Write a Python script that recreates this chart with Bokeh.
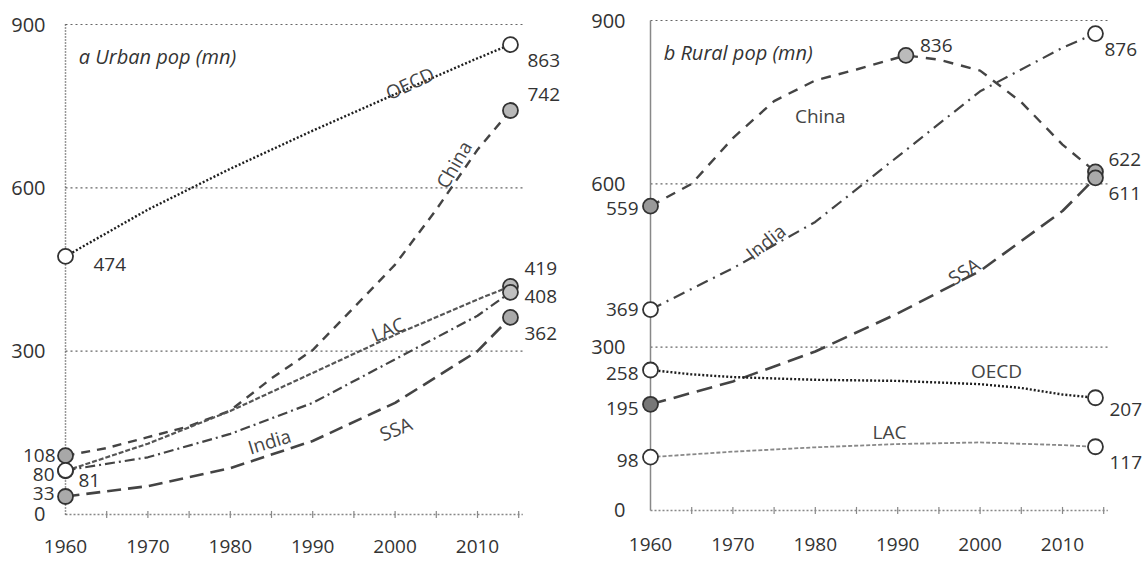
import math
import numpy as np
from bokeh.plotting import figure
from bokeh.layouts import row
from bokeh.models import Range1d, Label
from bokeh.embed import file_html
from bokeh.resources import INLINE

# ---------------- data ----------------
x_ticks = [1960, 1970, 1980, 1990, 2000, 2010]
y_ticks = [0, 300, 600, 900]
small_tick_years = [1965, 1970, 1975, 1980, 1985, 1990, 1995, 2000, 2005, 2010, 2015]

# a Urban population (millions)
u_oecd_years = [1960, 1970, 1980, 1990, 2000, 2010, 2014]
u_oecd = [474, 560, 635, 705, 772, 838, 863]
u_china_years = [1960, 1965, 1970, 1975, 1980, 1985, 1990, 1995, 2000, 2005, 2010, 2014]
u_china = [108, 122, 142, 162, 191, 250, 302, 380, 459, 560, 670, 742]
u_lac_years = [1960, 1970, 1980, 1990, 2000, 2010, 2014]
u_lac = [80, 130, 190, 260, 330, 395, 419]
u_india_years = [1960, 1970, 1980, 1990, 2000, 2010, 2014]
u_india = [81, 105, 148, 205, 285, 365, 408]
u_ssa_years = [1960, 1970, 1980, 1990, 2000, 2010, 2014]
u_ssa = [33, 52, 85, 135, 205, 300, 362]

# b Rural population (millions)
r_china_years = [1960, 1965, 1970, 1975, 1980, 1985, 1991, 1995, 2000, 2005, 2010, 2014]
r_china = [559, 600, 684, 752, 790, 810, 836, 828, 808, 750, 672, 622]
r_india_years = [1960, 1970, 1980, 1990, 2000, 2010, 2014]
r_india = [369, 445, 530, 650, 770, 850, 876]
r_ssa_years = [1960, 1970, 1980, 1990, 2000, 2010, 2014]
r_ssa = [195, 237, 292, 362, 440, 550, 611]
r_oecd_years = [1960, 1965, 1970, 1980, 1990, 2000, 2005, 2010, 2014]
r_oecd = [258, 250, 245, 240, 238, 232, 225, 213, 207]
r_lac_years = [1960, 1970, 1980, 1990, 2000, 2010, 2014]
r_lac = [98, 108, 116, 122, 125, 120, 117]

# ---------------- styles ----------------
FONT = "Open Sans"
TXT = "#333333"
GRID_END = 2015.5
H = 561
PPY = 8.24      # pixels per year
PPU = 0.5444    # pixels per million

left_series = [
    dict(name="OECD", years=u_oecd_years, vals=u_oecd, dash="2 2", lw=2.4, color="#1e1e1e",
         marks=[0, -1], fills=["white", "white"], lab=(2002, 4, 25)),
    dict(name="China", years=u_china_years, vals=u_china, dash="9 7", lw=2.4, color="#444444",
         marks=[0, -1], fills=["#a8a8a8", "#b8b8b8"], lab=(2008.3, 11, 60)),
    dict(name="LAC", years=u_lac_years, vals=u_lac, dash="5 2", lw=2.2, color="#555555",
         marks=[0, -1], fills=["white", "#b8b8b8"], lab=(1999.5, 8, 22)),
    dict(name="India", years=u_india_years, vals=u_india, dash="10 4 2 4", lw=2.2, color="#444444",
         marks=[0, -1], fills=["white", "#c0c0c0"], lab=(1984, -21, 17)),
    dict(name="SSA", years=u_ssa_years, vals=u_ssa, dash="14 7", lw=2.6, color="#444444",
         marks=[0, -1], fills=["#aaaaaa", "#aaaaaa"], lab=(1999, -24, 22)),
]
# (series, point index, dx, dy, align)
left_nums = [
    ("OECD", 0, 28, -8, "left"), ("OECD", -1, 17, -16, "left"),
    ("China", -1, 17, 16, "left"), ("LAC", -1, 14, 18, "left"),
    ("India", -1, 14, -4, "left"), ("SSA", -1, 14, -16, "left"),
    ("China", 0, -10, 0, "right"), ("LAC", 0, -11, -4, "right"),
    ("SSA", 0, -11, 3, "right"), ("India", 0, 13, -10, "left"),
]

right_series = [
    dict(name="China", years=r_china_years, vals=r_china, dash="10 8", lw=2.4, color="#444444",
         marks=[0, "peak", -1], fills=["#999999", "#bbbbbb", "#aaaaaa"], lab=(1980.6, -37, 0)),
    dict(name="India", years=r_india_years, vals=r_india, dash="12 6 2 6", lw=2.2, color="#444444",
         marks=[0, -1], fills=["white", "white"], lab=(1974.5, 7, 38)),
    dict(name="SSA", years=r_ssa_years, vals=r_ssa, dash="16 8", lw=2.6, color="#444444",
         marks=[0, -1], fills=["#777777", "#aaaaaa"], lab=(1998.5, 7, 32)),
    dict(name="OECD", years=r_oecd_years, vals=r_oecd, dash="2 2", lw=2.4, color="#1e1e1e",
         marks=[0, -1], fills=["white", "white"], lab=(2002, 15, 0)),
    dict(name="LAC", years=r_lac_years, vals=r_lac, dash="4 2", lw=1.8, color="#888888",
         marks=[0, -1], fills=["white", "white"], lab=(1989, 12, 0)),
]
right_nums = [
    ("China", 0, -12, -2, "right"), ("India", 0, -12, 0, "right"),
    ("OECD", 0, -12, -3, "right"), ("SSA", 0, -12, -4, "right"),
    ("LAC", 0, -12, -3, "right"),
    ("China", "peak", 14, 10, "left"), ("India", -1, 9, -16, "left"),
    ("China", -1, 13, 12, "left"), ("SSA", -1, 13, -16, "left"),
    ("OECD", -1, 14, -12, "left"), ("LAC", -1, 14, -16, "left"),
]


def idx_of(s, k):
    if k == "peak":
        return int(np.argmax(s["vals"]))
    return k if k >= 0 else len(s["vals"]) + k


def make_panel(title, series, nums, width, px_x0, px_ytop, ylab_dx, xlab_dy,
               axis_dash, axis_color):
    x0 = x_ticks[0]
    xr = (x0 - px_x0 / PPY, x0 + (width - px_x0) / PPY)
    top = y_ticks[-1] + px_ytop / PPU
    yr = (top - H / PPU, top)
    p = figure(width=width, height=H, x_range=Range1d(*xr), y_range=Range1d(*yr),
               output_backend="svg", toolbar_location=None,
               min_border_left=0, min_border_right=0, min_border_top=0, min_border_bottom=0)
    p.outline_line_color = None
    p.background_fill_color = "white"
    p.border_fill_color = "white"
    p.xaxis.visible = False
    p.yaxis.visible = False
    p.xgrid.visible = False
    p.ygrid.visible = False

    n = len(y_ticks) - 1
    # horizontal gridlines
    p.segment(x0=[x0] * n, x1=[GRID_END] * n, y0=y_ticks[1:], y1=y_ticks[1:],
              line_color="#666666", line_width=1.2, line_dash="2 3")
    # base line with small ticks
    p.segment(x0=[x0], x1=[GRID_END], y0=[y_ticks[0]], y1=[y_ticks[0]],
              line_color="#888888", line_width=1.5, line_dash="2 2")
    p.scatter(small_tick_years, [y_ticks[0]] * len(small_tick_years), marker="dash",
              angle=math.pi / 2, size=7, line_color="#888888", line_width=1.2)
    # vertical axis line
    p.segment(x0=[x0], x1=[x0], y0=[y_ticks[0]], y1=[y_ticks[-1]],
              line_color=axis_color, line_width=1.5, line_dash=axis_dash)

    # tick labels
    for t in y_ticks:
        p.add_layout(Label(x=x0, y=t, text=str(t), x_offset=ylab_dx, y_offset=0,
                           text_align="right", text_baseline="middle", text_font=FONT,
                           text_font_size="20px", text_color=TXT))
    for t in x_ticks:
        p.add_layout(Label(x=t, y=y_ticks[0], text=str(t), x_offset=0, y_offset=xlab_dy,
                           text_align="center", text_baseline="middle", text_font=FONT,
                           text_font_size="19px", text_color=TXT))

    by_name = {s["name"]: s for s in series}
    for s in series:
        p.line(s["years"], s["vals"], line_color=s["color"], line_width=s["lw"],
               line_dash=s["dash"])
    for s in series:
        ids = [idx_of(s, k) for k in s["marks"]]
        p.scatter([s["years"][i] for i in ids], [s["vals"][i] for i in ids],
                  size=15, fill_color=s["fills"], line_color="#333333", line_width=1.8)

    # numeric labels
    for name, k, dx, dy, align in nums:
        s = by_name[name]
        i = idx_of(s, k)
        p.add_layout(Label(x=s["years"][i], y=s["vals"][i], text=str(s["vals"][i]),
                           x_offset=dx, y_offset=dy, text_align=align,
                           text_baseline="middle", text_font=FONT,
                           text_font_size="19px", text_color=TXT))
    # series name labels along their lines
    for s in series:
        yr_, off, ang = s["lab"]
        yv = float(np.interp(yr_, s["years"], s["vals"]))
        th = math.radians(ang)
        p.add_layout(Label(x=yr_, y=yv, text=s["name"],
                           x_offset=-off * math.sin(th), y_offset=off * math.cos(th),
                           angle=th, text_align="center", text_baseline="middle",
                           text_font=FONT, text_font_size="19px", text_color="#444444"))
    # panel title
    p.add_layout(Label(x=1961.6, y=842, text=title, text_font=FONT, text_font_style="italic",
                       text_font_size="20px", text_color=TXT, text_baseline="middle"))
    return p


p1 = make_panel("a Urban pop (mn)", left_series, left_nums, 583, 65, 24, -20, -32,
                "1 2", "#333333")
p2 = make_panel("b Rural pop (mn)", right_series, right_nums, 562, 67, 20, -25, -34,
                "solid", "#888888")

layout = row(p1, p2)
open("out.html", "w").write(file_html(layout, INLINE))
